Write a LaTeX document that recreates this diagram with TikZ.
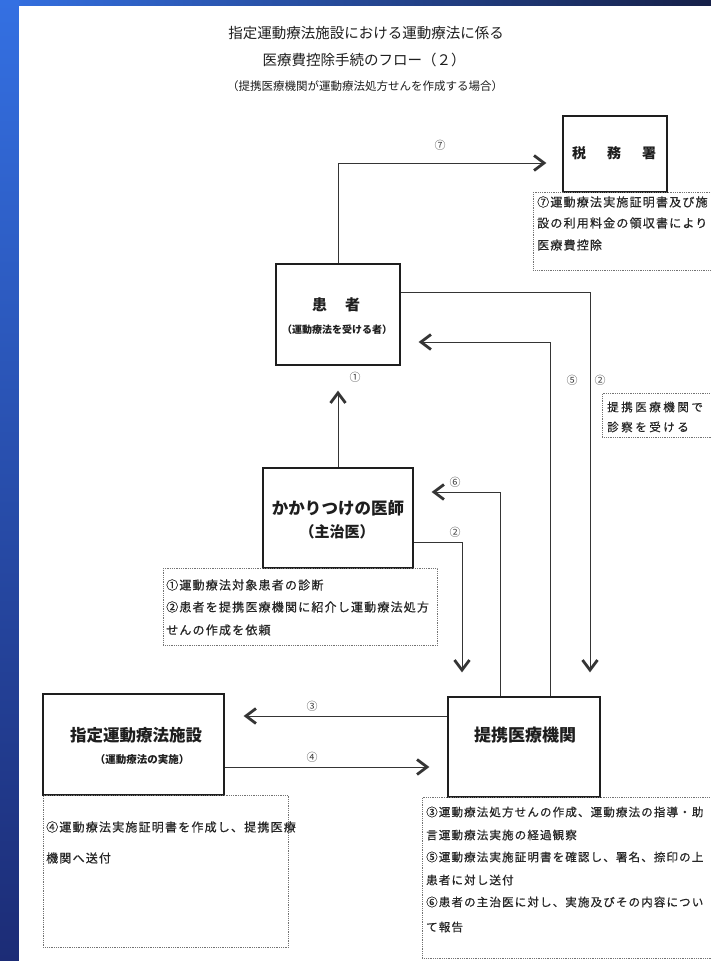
\documentclass[tikz,border=0pt]{standalone}
\usepackage{fontspec}
\setmainfont{Noto Sans CJK JP}
\newfontfamily\jp{Noto Sans CJK JP}
\newfontfamily\jpsp{Noto Sans CJK JP}[LetterSpace=10,FakeBold=0.5]
\newfontfamily\jpwide{Noto Sans CJK JP}[LetterSpace=22,FakeBold=0.5]
\usetikzlibrary{arrows.meta}
\definecolor{bgA}{RGB}{52,112,226}
\definecolor{bgB}{RGB}{22,32,72}
\definecolor{bgC}{RGB}{28,44,118}
\definecolor{ink}{RGB}{30,30,30}
\begin{document}
\begin{tikzpicture}[x=1pt,y=-1pt,
  box/.style={draw=ink, line width=1.3pt, rectangle, inner sep=0pt},
  notebox/.style={draw=black!55, line width=0.8pt, densely dotted, rectangle, inner sep=0pt, anchor=north west},
  boxtxt/.style={inner sep=0pt, text=ink},
  title/.style={inner sep=0pt, text=ink, font=\jp\fontsize{14.5}{15}\selectfont},
  notetxt/.style={anchor=west, inner sep=0pt, text=black!85, font=\jpsp\fontsize{12}{12}\selectfont},
  notesm/.style={notetxt, font=\jpsp\fontsize{11.5}{12}\selectfont},
  lbl/.style={inner sep=0pt, text=black!75, font=\jp\fontsize{11}{11}\selectfont},
  arr/.style={draw=ink!90, line width=1pt, -{Straight Barb[length=10pt,width=15pt,line width=2.8pt]}}
]
\useasboundingbox (0,0) rectangle (711,961);
% background
\shade[left color=bgA, right color=bgB] (0,0) rectangle (711,961);
\shade[top color=bgA, bottom color=bgC] (0,0) rectangle (19,961);
\fill[white] (19,6) rectangle (711,961);
\begin{scope}
\clip (19,6) rectangle (711,961);

% titles
\node[title] (t1) at (366,33) {指定運動療法施設における運動療法に係る};
\node[title] (t2) at (364,60) {医療費控除手続のフロー（２）};
\node[inner sep=0pt, text=ink, font=\jp\fontsize{11.5}{12}\selectfont] (t3) at (365,86) {（提携医療機関が運動療法処方せんを作成する場合）};

% main boxes
\node[box, minimum width=104pt, minimum height=76pt] (zeimu) at (615,154) {};
\node[boxtxt, font=\jp\bfseries\fontsize{14}{14}\selectfont] (zeimuT) at (614,153) {税\hspace{21pt}務\hspace{21pt}署};

\node[box, minimum width=124pt, minimum height=101pt] (kanja) at (338,314.5) {};
\node[boxtxt, font=\jp\bfseries\fontsize{15}{15}\selectfont] (kanjaT) at (336,305) {患\hspace{18pt}者};
\node[boxtxt, font=\jp\bfseries\fontsize{10}{10}\selectfont] (kanjaS) at (337,330) {（運動療法を受ける者）};

\node[box, minimum width=150pt, minimum height=100pt] (kakari) at (338,518) {};
\node[boxtxt, font=\jp\bfseries\fontsize{16.5}{17}\selectfont] (kakariT) at (338,508) {かかりつけの医師};
\node[boxtxt, font=\jp\bfseries\fontsize{15}{15}\selectfont] (kakariS) at (337,532) {（主治医）};

\node[box, minimum width=181pt, minimum height=101pt] (shitei) at (133.5,744.5) {};
\node[boxtxt, font=\jp\bfseries\fontsize{16.5}{17}\selectfont] (shiteiT) at (136,735) {指定運動療法施設};
\node[boxtxt, font=\jp\bfseries\fontsize{10.5}{11}\selectfont] (shiteiS) at (142,760) {（運動療法の実施）};

\node[box, minimum width=152pt, minimum height=100pt] (teikei) at (524,747) {};
\node[boxtxt, font=\jp\bfseries\fontsize{17}{17}\selectfont] (teikeiT) at (525,735) {提携医療機関};

% notes
\node[notebox, minimum width=187pt, minimum height=78pt] (n7) at (533,192) {};
\node[notetxt] (n7a) at (537,202) {⑦運動療法実施証明書及び施};
\node[notetxt] (n7b) at (537,223) {設の利用料金の領収書により};
\node[notetxt] (n7c) at (537,245) {医療費控除};

\node[notebox, minimum width=118pt, minimum height=44pt] (nS) at (602,393) {};
\node[notetxt, font=\jpwide\fontsize{11.5}{12}\selectfont] (nSa) at (607,407) {提携医療機関で};
\node[notetxt, font=\jpwide\fontsize{11.5}{12}\selectfont] (nSb) at (607,427) {診察を受ける};

\node[notebox, minimum width=274pt, minimum height=77pt] (nK) at (163,568) {};
\node[notetxt] (nKa) at (166,585) {①運動療法対象患者の診断};
\node[notetxt] (nKb) at (166,607) {②患者を提携医療機関に紹介し運動療法処方};
\node[notetxt] (nKc) at (166,630) {せんの作成を依頼};

\node[notebox, minimum width=245pt, minimum height=152pt] (nSh) at (43,795) {};
\node[notetxt] (nSha) at (46,827) {④運動療法実施証明書を作成し、提携医療};
\node[notetxt] (nShb) at (46,858) {機関へ送付};

\node[notebox, minimum width=298pt, minimum height=161pt] (nT) at (422,797) {};
\node[notesm] (nTa) at (426,812) {③運動療法処方せんの作成、運動療法の指導・助};
\node[notesm] (nTb) at (426,835) {言運動療法実施の経過観察};
\node[notesm] (nTc) at (426,857) {⑤運動療法実施証明書を確認し、署名、捺印の上};
\node[notesm] (nTd) at (426,880) {患者に対し送付};
\node[notesm] (nTe) at (426,902) {⑥患者の主治医に対し、実施及びその内容につい};
\node[notesm] (nTf) at (426,927) {て報告};

% levels and columns
\coordinate (L7) at (0,163);
\coordinate (L2a) at (0,292);
\coordinate (L5) at (0,342);
\coordinate (L6) at (0,492);
\coordinate (L2b) at (0,542);
\coordinate (L3) at (0,716);
\coordinate (L4) at (0,767);
\coordinate (X2a) at (590,0);
\coordinate (X5) at (550,0);
\coordinate (X6) at (500,0);
\coordinate (X2b) at (462,0);

% connectors
\draw[arr, shorten >=16pt] (kanja.north) |- (zeimu.west |- L7);
\draw[arr, shorten >=25pt] (kakari.north) -- (kanja.south);
\draw[arr, shorten >=24pt] (kanja.east |- L2a) -| (teikei.north -| X2a);
\draw[arr, shorten >=18pt] (teikei.north -| X5) |- (kanja.east |- L5);
\draw[arr, shorten >=18pt] (teikei.north -| X6) |- (kakari.east |- L6);
\draw[arr, shorten >=24pt] (kakari.east |- L2b) -| (teikei.north -| X2b);
\draw[arr, shorten >=19pt] (teikei.west |- L3) -- (shitei.east |- L3);
\draw[arr, shorten >=18pt] (shitei.east |- L4) -- (teikei.west |- L4);

% labels
\node[lbl] (l7) at (440,145) {⑦};
\node[lbl] (l1) at (355,377) {①};
\node[lbl] (l5) at (572,380) {⑤};
\node[lbl] (l2a) at (600,380) {②};
\node[lbl] (l6) at (455,482) {⑥};
\node[lbl] (l2b) at (455,532) {②};
\node[lbl] (l3) at (312,706) {③};
\node[lbl] (l4) at (312,757) {④};
\end{scope}
\end{tikzpicture}
\end{document}
